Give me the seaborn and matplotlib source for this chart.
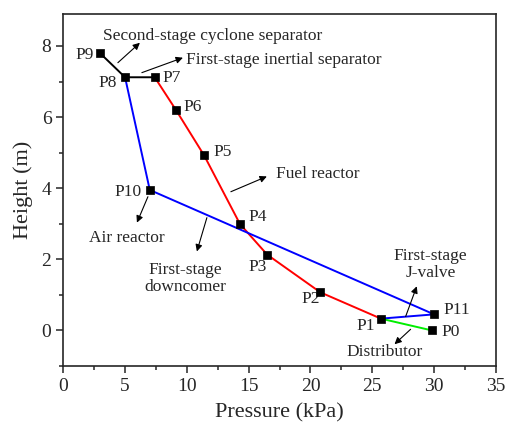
import pandas as pd
import matplotlib.pyplot as plt
import seaborn as sns
from matplotlib.ticker import MultipleLocator

point_names = ["P0", "P1", "P2", "P3", "P4", "P5", "P6", "P7", "P8", "P9", "P10", "P11"]
pressure = [29.8, 25.7, 20.8, 16.5, 14.3, 11.4, 9.1, 7.4, 5.0, 3.0, 7.0, 30.0]
height = [0.0, 0.33, 1.07, 2.13, 2.99, 4.92, 6.21, 7.12, 7.12, 7.79, 3.95, 0.45]

# line segments through the loop (order of points per colour)
fuel_path = ["P1", "P2", "P3", "P4", "P5", "P6", "P7"]
separator_path = ["P7", "P8", "P9"]
air_path = ["P8", "P10", "P11", "P1"]
distributor_path = ["P1", "P0"]

sns.set_style("ticks")
plt.rcParams['font.family'] = ['Liberation Serif', 'DejaVu Serif']

pts = pd.DataFrame({"name": point_names, "p": pressure, "h": height}).set_index("name")

rows = []
for seg, path in [("fuel", fuel_path), ("sep", separator_path),
                  ("air", air_path), ("dist", distributor_path)]:
    for i, n in enumerate(path):
        rows.append({"seg": seg, "order": i, "p": pts.loc[n, "p"], "h": pts.loc[n, "h"]})
lines = pd.DataFrame(rows)

fig = plt.figure(figsize=(5.06, 4.24), dpi=100)
ax = fig.add_axes([0.125, 0.137, 0.855, 0.830])

palette = {"fuel": "#ff0000", "sep": "#000000", "air": "#0000ff", "dist": "#00ee00"}
sns.lineplot(data=lines, x="p", y="h", hue="seg", units="seg", estimator=None,
             sort=False, palette=palette, linewidth=1.4, legend=False, ax=ax)
sns.scatterplot(data=pts, x="p", y="h", marker="s", s=28, color="black",
                edgecolor="black", linewidth=0.5, zorder=5, ax=ax)

# point labels
label_pos = {
    "P0": (31.3, -0.06), "P1": (24.5, 0.11), "P11": (31.8, 0.56), "P2": (20.0, 0.87),
    "P3": (15.7, 1.77), "P4": (15.7, 3.2), "P10": (5.2, 3.88), "P5": (12.9, 5.03),
    "P6": (10.5, 6.29), "P7": (8.8, 7.11), "P8": (3.6, 6.97), "P9": (1.75, 7.75),
}
for n, (tx, ty) in label_pos.items():
    ax.text(tx, ty, n, fontsize=12.5, ha="center", va="center")

arrow = dict(arrowstyle="-|>", color="black", lw=0.8, mutation_scale=10, shrinkA=0, shrinkB=0)
notes = [
    ("Second-stage cyclone separator", (3.2, 8.29), (4.42, 7.53), (6.2, 8.09), "left"),
    ("First-stage inertial separator", (9.9, 7.61), (6.36, 7.25), (9.68, 7.67), "left"),
    ("Fuel reactor", (17.2, 4.41), (13.56, 3.9), (16.47, 4.33), "left"),
    ("Air reactor", (5.15, 2.61), (6.85, 3.76), (5.96, 3.03), "center"),
    ("First-stage\ndowncomer", (9.84, 1.46), (11.62, 3.17), (10.81, 2.22), "center"),
    ("First-stage\nJ-valve", (29.7, 1.85), (27.7, 0.39), (28.6, 1.24), "center"),
    ("Distributor", (26.0, -0.62), (28.1, 0.03), (26.8, -0.39), "center"),
]
for txt, tpos, tail, head, ha in notes:
    ax.text(tpos[0], tpos[1], txt, fontsize=12.5, ha=ha, va="center",
            multialignment="center", linespacing=1.1)
    ax.annotate("", xy=head, xytext=tail, arrowprops=arrow)

ax.set_xlim(0, 35)
ax.set_ylim(-1, 8.9)
ax.xaxis.set_major_locator(MultipleLocator(5))
ax.xaxis.set_minor_locator(MultipleLocator(2.5))
ax.yaxis.set_major_locator(MultipleLocator(2))
ax.yaxis.set_minor_locator(MultipleLocator(1))
ax.tick_params(which="major", direction="out", length=5, width=1.1, labelsize=14,
               top=False, right=False)
ax.tick_params(which="minor", direction="out", length=3, width=1.1, top=False, right=False)
for s in ax.spines.values():
    s.set_linewidth(1.2)
ax.set_xlabel("Pressure (kPa)", fontsize=16, labelpad=6)
ax.set_ylabel("Height (m)", fontsize=16, labelpad=6)

fig.savefig("out.png", dpi=100)
